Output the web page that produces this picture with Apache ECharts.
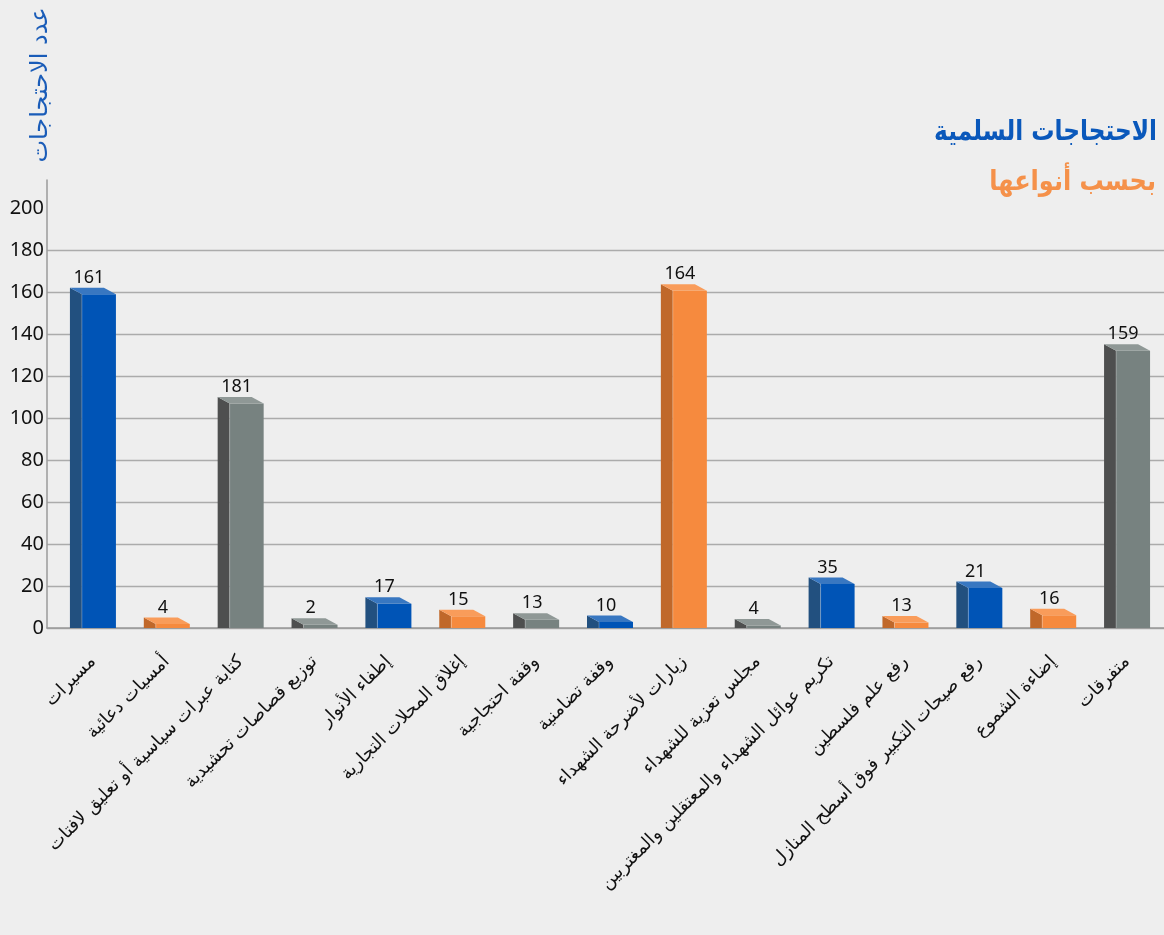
<!DOCTYPE html>
<html><head><meta charset="utf-8">
<script src="https://cdn.jsdelivr.net/npm/echarts@6/dist/echarts.min.js"></script>
<style>html,body{margin:0;padding:0;background:#eeeeee}#c{width:1164px;height:935px}</style>
</head><body><div id="c"></div>
<script>
// ---- data ----
const categories = [
  'مسيرات',
  'أمسيات دعائية',
  'كتابة عبرات سياسية أو تعليق لافتات',
  'توزيع قصاصات تحشيدية',
  'إطفاء الأنوار',
  'إغلاق المحلات التجارية',
  'وقفة احتجاجية',
  'وقفة تضامنية',
  'زيارات لأضرحة الشهداء',
  'مجلس تعزية للشهداء',
  'تكريم عوائل الشهداء والمعتقلين والمغتربين',
  'رفع علم فلسطين',
  'رفع صيحات التكبير فوق أسطح المنازل',
  'إضاءة الشموع',
  'متفرقات'
];
// value labels printed above the bars
const labelValues = [161, 4, 181, 2, 17, 15, 13, 10, 164, 4, 35, 13, 21, 16, 159];
// bar heights as drawn in the picture (read on the y axis)
const barHeights = [162, 5, 110, 4.6, 14.6, 8.7, 7, 5.9, 163.7, 4.3, 24.1, 5.7, 22.2, 9.2, 135.1];
const titleText = 'الاحتجاجات السلمية';
const subtitleText = 'بحسب أنواعها';
const yAxisName = 'عدد الاحتجاجات';

// ---- styles ----
const palettes = {
  blue:   {front: '#0054b6', side: '#22507f', top: '#3877c1'},
  orange: {front: '#f68a3e', side: '#c0682a', top: '#f99c5a'},
  gray:   {front: '#778280', side: '#4e4f4f', top: '#8f9896'}
};
const colorSeq = ['blue','orange','gray','gray','blue','orange','gray','blue','orange','gray','blue','orange','blue','orange','gray'];
const Y_MAX = 213.33;
const SIDE_W = 12, FRONT_W = 34, DEPTH = 6.5;

const chart = echarts.init(document.getElementById('c'), null, {renderer: 'canvas'});

function renderBar(params, api) {
  const i = api.value(0);
  const v = api.value(1);
  const top = api.coord([i, v]);
  const base = api.coord([i, 0]);
  const x0 = top[0] - (SIDE_W + FRONT_W) / 2;
  const yb = top[1];
  const y0 = base[1];
  const pal = palettes[colorSeq[i]];
  return {
    type: 'group',
    children: [
      {type: 'polygon', shape: {points: [[x0, yb], [x0 + SIDE_W, yb + DEPTH], [x0 + SIDE_W, y0], [x0, y0]]},
       style: {fill: pal.side}},
      {type: 'rect', shape: {x: x0 + SIDE_W, y: yb + DEPTH, width: FRONT_W, height: Math.max(0, y0 - yb - DEPTH)},
       style: {fill: pal.front}},
      {type: 'polygon', shape: {points: [[x0, yb], [x0 + FRONT_W, yb], [x0 + FRONT_W + SIDE_W, yb + DEPTH], [x0 + SIDE_W, yb + DEPTH]]},
       style: {fill: pal.top}},
      {type: 'line', shape: {x1: x0 + SIDE_W, y1: yb + DEPTH, x2: x0 + SIDE_W, y2: y0},
       style: {stroke: 'rgba(255,255,255,0.25)', lineWidth: 1}},
      {type: 'text', x: top[0] - 4, y: yb - 1,
       style: {text: String(labelValues[i]), fill: '#111', font: '18px "Noto Sans", sans-serif',
               textAlign: 'center', textVerticalAlign: 'bottom'}}
    ]
  };
}

chart.setOption({
  backgroundColor: '#eeeeee',
  animation: false,
  grid: [
    {left: 47, right: 0, top: 180, bottom: 307},
    {left: 56, width: 1110, top: 180, bottom: 307}
  ],
  xAxis: [
    {gridIndex: 0, type: 'category', data: categories, boundaryGap: true,
     axisLine: {show: true, lineStyle: {color: '#9a9a9a', width: 1.5}},
     axisTick: {show: false}, axisLabel: {show: false}, splitLine: {show: false}},
    {gridIndex: 1, type: 'category', data: categories, boundaryGap: true,
     axisLine: {show: false}, axisTick: {show: false},
     axisLabel: {show: true, interval: 0, rotate: 45, margin: 31, color: '#111',
                 fontSize: 18, fontFamily: '"DejaVu Sans", sans-serif'}}
  ],
  yAxis: [
    {gridIndex: 0, type: 'value', min: 0, max: Y_MAX, interval: 20,
     axisLine: {show: true, lineStyle: {color: '#9a9a9a', width: 1.5}},
     axisTick: {show: false},
     axisLabel: {show: true, showMaxLabel: false, margin: 3, color: '#111', fontSize: 20,
                 fontFamily: '"Noto Sans", sans-serif'},
     splitLine: {show: true, showMaxLine: false,
                 lineStyle: {width: 1.3, color: ['#ababab','#ababab','#ababab','#ababab','#ababab','#ababab','#ababab','#ababab','#ababab','#ababab','rgba(0,0,0,0)']}}},
    {gridIndex: 1, type: 'value', min: 0, max: Y_MAX, show: false, splitLine: {show: false}}
  ],
  series: [{
    type: 'custom',
    xAxisIndex: 1, yAxisIndex: 1,
    renderItem: renderBar,
    encode: {x: 0, y: 1},
    data: barHeights.map((v, i) => [i, v]),
    clip: false
  }],
  graphic: [
    {type: 'text', x: 41, y: 85, rotation: Math.PI / 2,
     style: {text: yAxisName, fill: '#1a5cb8', font: '24px "DejaVu Sans", sans-serif',
             textAlign: 'center', textVerticalAlign: 'middle'}},
    {type: 'text', x: 1157, y: 133, scaleX: 0.83,
     style: {text: titleText, fill: '#0a58bb', font: 'bold 28px "DejaVu Sans", sans-serif',
             textAlign: 'right', textVerticalAlign: 'middle'}},
    {type: 'text', x: 1156, y: 183, scaleX: 0.86,
     style: {text: subtitleText, fill: '#f5914a', font: 'bold 28px "DejaVu Sans", sans-serif',
             textAlign: 'right', textVerticalAlign: 'middle'}}
  ]
});
</script>
</body></html>
